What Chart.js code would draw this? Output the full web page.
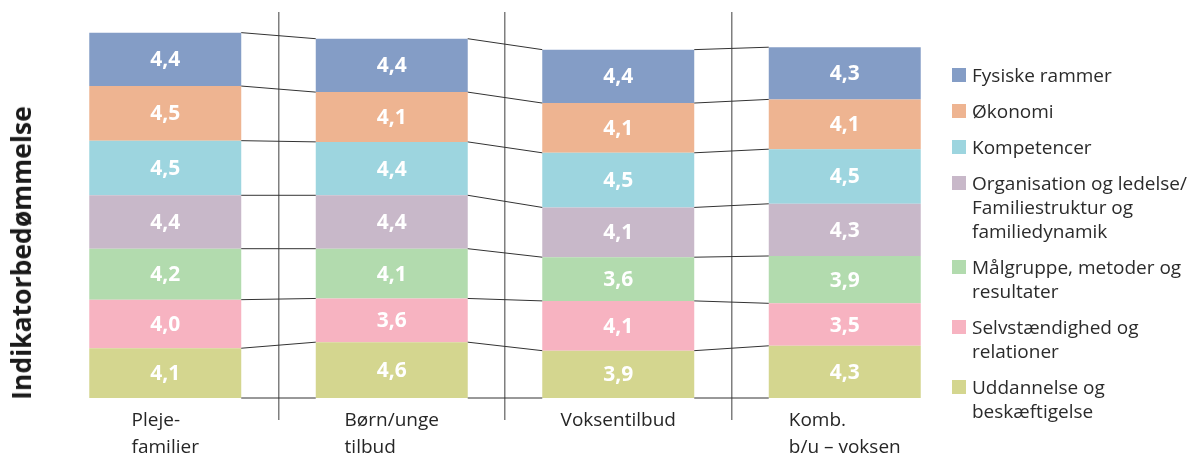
<!DOCTYPE html>
<html><head><meta charset="utf-8">
<script src="https://cdn.jsdelivr.net/npm/chart.js@4/dist/chart.umd.min.js"></script>
<style>
body{margin:0;background:#fff;}
#wrap{position:relative;width:1190px;height:455px;overflow:hidden;font-family:"Open Sans",sans-serif;}
#c{position:absolute;left:0;top:0;}
#ytitle{position:absolute;left:21px;top:253px;transform:translate(-50%,-50%) rotate(-90deg);font:bold 26.5px "Open Sans";white-space:nowrap;color:#1a1a1a;}
#legend{position:absolute;left:952px;top:63px;font-size:19px;line-height:24px;color:#2b2b2b;}
.item{position:relative;padding-left:20px;margin-bottom:12px;white-space:nowrap;}
.box{position:absolute;left:0;top:5px;width:14px;height:14px;}
</style></head><body>
<div id="wrap"><canvas id="c" width="1190" height="455"></canvas><div id="ytitle">Indikatorbedømmelse</div><div id="legend"></div></div>
<script>
// Categories (lines of each label)
const categories = [["Pleje-","familier"],["Børn/unge","tilbud"],["Voksentilbud"],["Komb.","b/u – voksen"]];
// Series names (legend order, top of stack first), with line breaks
const seriesNames = [
  ["Fysiske rammer"],
  ["Økonomi"],
  ["Kompetencer"],
  ["Organisation og ledelse/","Familiestruktur og","familiedynamik"],
  ["Målgruppe, metoder og","resultater"],
  ["Selvstændighed og","relationer"],
  ["Uddannelse og","beskæftigelse"]
];
// Series values
const fysiskeRammer   = [4.4, 4.4, 4.4, 4.3];
const oekonomi        = [4.5, 4.1, 4.1, 4.1];
const kompetencer     = [4.5, 4.4, 4.5, 4.5];
const organisation    = [4.4, 4.4, 4.1, 4.3];
const maalgruppe      = [4.2, 4.1, 3.6, 3.9];
const selvstaendighed = [4.0, 3.6, 4.1, 3.5];
const uddannelse      = [4.1, 4.6, 3.9, 4.3];
const seriesColors = ["#849DC6","#EEB491","#9DD5DF","#C8B8C9","#B2DBAE","#F7B3C1","#D4D68F"];

const seriesValues = [fysiskeRammer, oekonomi, kompetencer, organisation, maalgruppe, selvstaendighed, uddannelse];

// legend (HTML)
const lg = document.getElementById('legend');
seriesNames.forEach((lines, i) => {
  const it = document.createElement('div'); it.className = 'item';
  const b = document.createElement('span'); b.className = 'box'; b.style.background = seriesColors[i];
  it.appendChild(b);
  lines.forEach((l, k) => { if (k) it.appendChild(document.createElement('br')); it.appendChild(document.createTextNode(l)); });
  lg.appendChild(it);
});

// datasets: bottom of stack first
const datasets = seriesValues.map((v, i) => ({
  label: seriesNames[i].join(' '), data: v, backgroundColor: seriesColors[i], borderWidth: 0
})).reverse();

const overlay = {
  id: 'overlay',
  afterDatasetsDraw(chart) {
    const ctx = chart.ctx;
    const metas = chart.data.datasets.map((d, i) => chart.getDatasetMeta(i));
    const n = categories.length;
    ctx.save();
    ctx.strokeStyle = '#333'; ctx.lineWidth = 1;
    for (let i = 0; i < n - 1; i++) {
      const a0 = metas[0].data[i], b0 = metas[0].data[i + 1];
      const pairs = [[a0.base, b0.base]];
      metas.forEach(m => pairs.push([m.data[i].y, m.data[i + 1].y]));
      const xa = a0.x + a0.width / 2, xb = b0.x - b0.width / 2;
      pairs.forEach(([ya, yb]) => { ctx.beginPath(); ctx.moveTo(xa, ya); ctx.lineTo(xb, yb); ctx.stroke(); });
    }
    ctx.fillStyle = '#fff'; ctx.font = 'bold 21px "Open Sans"';
    ctx.textAlign = 'center'; ctx.textBaseline = 'middle';
    metas.forEach((m, di) => m.data.forEach((el, i) => {
      const v = chart.data.datasets[di].data[i];
      ctx.fillText(v.toFixed(1).replace('.', ','), el.x, (el.y + el.base) / 2 + 1);
    }));
    // category labels: block centred, lines left-aligned
    const xs = chart.scales.x, bottom = chart.chartArea.bottom;
    ctx.fillStyle = '#262626'; ctx.font = '19px "Open Sans"';
    ctx.textAlign = 'left'; ctx.textBaseline = 'alphabetic';
    categories.forEach((lines, i) => {
      const cx = xs.getPixelForValue(i);
      const w = Math.max(...lines.map(l => ctx.measureText(l).width));
      lines.forEach((l, k) => ctx.fillText(l, cx - w / 2, bottom + 28 + k * 27));
    });
    ctx.restore();
  }
};

function draw() {
  new Chart(document.getElementById('c'), {
    type: 'bar',
    data: { labels: categories.map(c => c.join(' ')), datasets },
    options: {
      responsive: false, animation: false,
      layout: { padding: { left: 52, right: 232, top: 12, bottom: 35 } },
      plugins: { legend: { display: false }, tooltip: { enabled: false } },
      scales: {
        x: {
          stacked: true,
          border: { display: false },
          ticks: { display: false },
          grid: {
            offset: true, tickLength: 22, lineWidth: 1.5,
            color: c => (c.index === undefined || c.index === 0 || c.index >= categories.length) ? 'rgba(0,0,0,0)' : '#7f7f7f'
          }
        },
        y: { stacked: true, display: false, min: 0, max: 31.8 }
      },
      datasets: { bar: { barPercentage: 0.671, categoryPercentage: 1 } }
    },
    plugins: [overlay]
  });
}
Promise.all([
  document.fonts.load('bold 21px "Open Sans"'),
  document.fonts.load('19px "Open Sans"')
]).then(draw, draw);
</script>
</body></html>
